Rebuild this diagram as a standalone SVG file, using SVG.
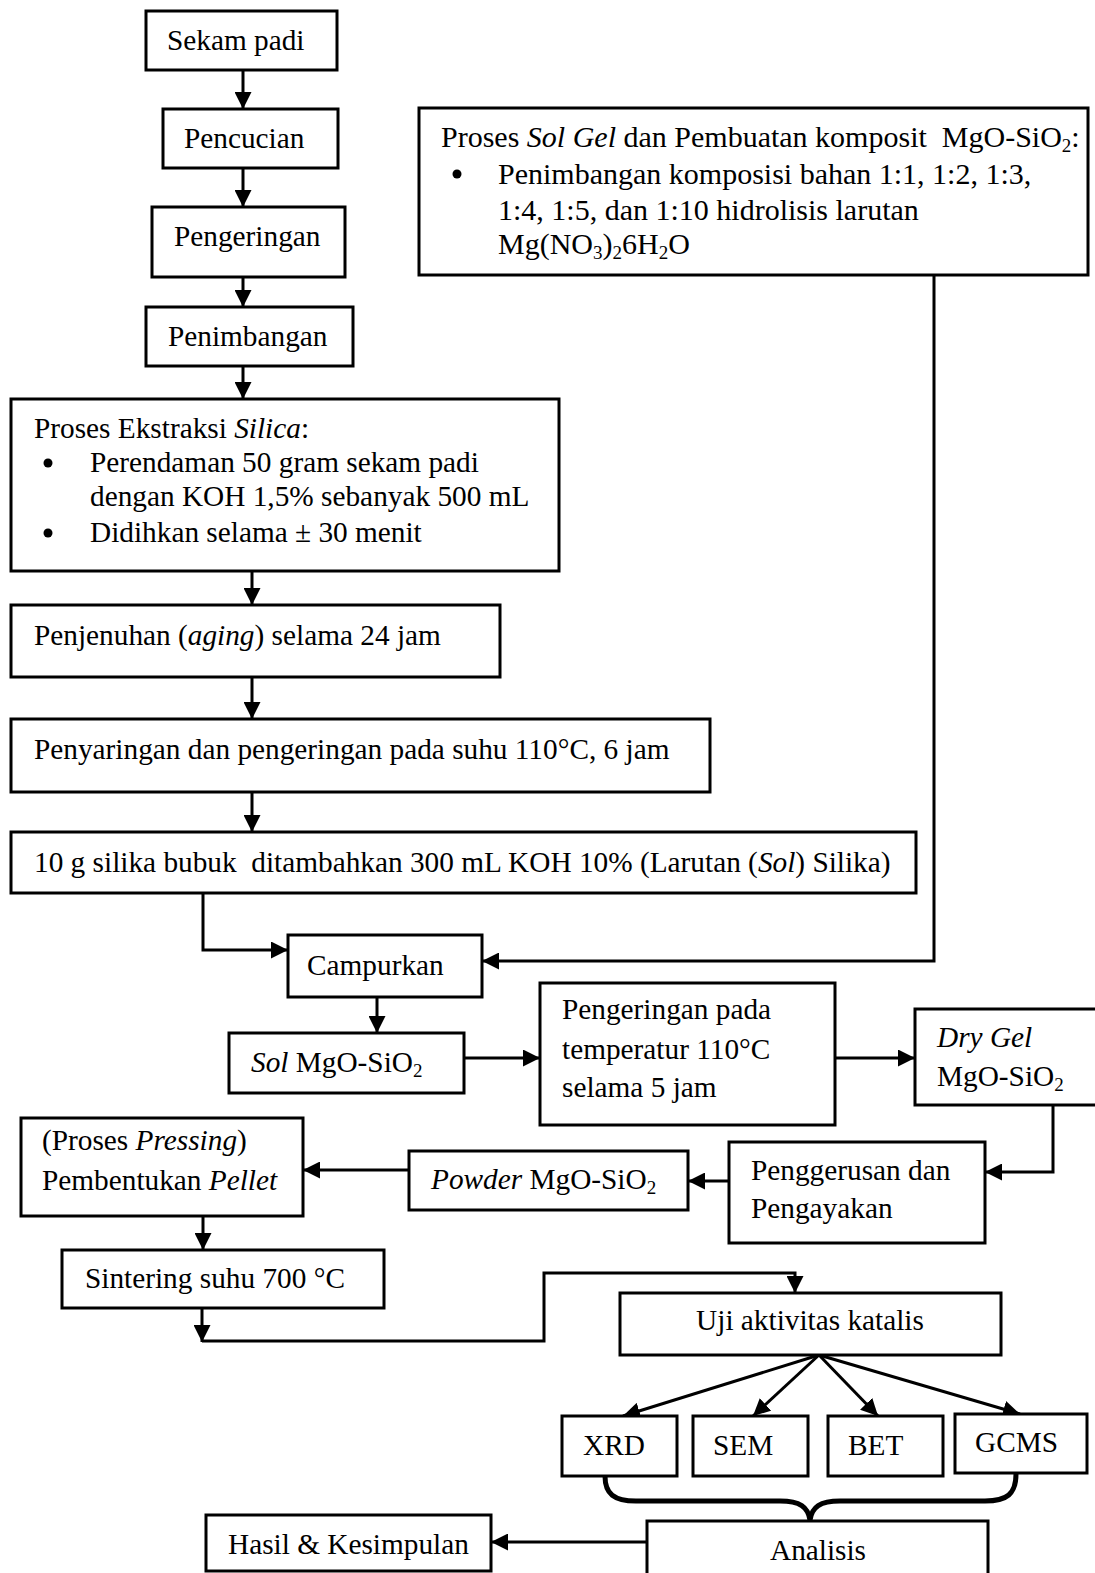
<svg xmlns="http://www.w3.org/2000/svg" width="1095" height="1573" viewBox="0 0 1095 1573">
<style>
.b{fill:#fff;stroke:#000;stroke-width:3}
text{font-family:"Liberation Serif","Times New Roman",serif;font-size:29.3px;fill:#000}
.g{font-size:30px}
.c{fill:none;stroke:#000;stroke-width:3}
.a{marker-end:url(#ah)}
.i{font-style:italic}
.s{font-size:19px}
</style>
<defs>
<marker id="ah" viewBox="0 0 16 16" refX="16" refY="8" markerWidth="17" markerHeight="17" markerUnits="userSpaceOnUse" orient="auto">
<path d="M0,0 L16,8 L0,16 z" fill="#000"/>
</marker>
</defs>
<rect width="1095" height="1573" fill="#fff"/>
<g id="connectors">
<path class="c a" d="M243,70 V109"/>
<path class="c a" d="M243,168 V207"/>
<path class="c a" d="M243,277 V307"/>
<path class="c a" d="M243,366 V399"/>
<path class="c a" d="M252,571 V605"/>
<path class="c a" d="M252,677 V719"/>
<path class="c a" d="M252,792 V832"/>
<path class="c a" d="M203,893 V950 H288"/>
<path class="c a" d="M934,275 V961 H482"/>
<path class="c a" d="M377,997 V1033"/>
<path class="c a" d="M464,1058 H540"/>
<path class="c a" d="M835,1058 H915"/>
<path class="c a" d="M1053,1105 V1172 H985"/>
<path class="c a" d="M729,1181 H688"/>
<path class="c a" d="M409,1170 H303"/>
<path class="c a" d="M203,1216 V1250"/>
<path class="c a" d="M202,1308 V1342"/>
<path class="c a" d="M202,1341 H544 V1273 H795 V1293"/>
<path class="c a" d="M819,1355 L623,1416"/>
<path class="c a" d="M819,1355 L753,1416"/>
<path class="c a" d="M819,1355 L878,1416"/>
<path class="c a" d="M819,1355 L1020,1414"/>
<path d="M605,1476 C605,1494 614,1501 636,1501 H780 C800,1501 808,1507 810,1520 C812,1507 820,1501 840,1501 H985 C1007,1501 1016,1494 1016,1474" fill="none" stroke="#000" stroke-width="5"/>
<path class="c a" d="M647,1542 H491"/>
</g>
<g id="n1"><rect class="b" x="146" y="11" width="191" height="59"/><text x="167" y="50">Sekam padi</text></g>
<g id="n2"><rect class="b" x="163" y="109" width="175" height="59"/><text x="184" y="148">Pencucian</text></g>
<g id="n3"><rect class="b" x="152" y="207" width="193" height="70"/><text x="174" y="246">Pengeringan</text></g>
<g id="n4"><rect class="b" x="146" y="307" width="207" height="59"/><text x="168" y="346">Penimbangan</text></g>
<g id="n5"><rect class="b" x="419" y="108" width="669" height="167"/>
<text class="g" x="441" y="147" xml:space="preserve">Proses <tspan class="i">Sol Gel</tspan> dan Pembuatan komposit  MgO-SiO<tspan class="s" dy="5">2</tspan><tspan dy="-5">:</tspan></text>
<circle cx="457" cy="174" r="4.5"/>
<text class="g" x="498" y="184">Penimbangan komposisi bahan 1:1, 1:2, 1:3,</text>
<text class="g" x="498" y="220">1:4, 1:5, dan 1:10 hidrolisis larutan</text>
<text class="g" x="498" y="254">Mg(NO<tspan class="s" dy="5">3</tspan><tspan dy="-5">)</tspan><tspan class="s" dy="5">2</tspan><tspan dy="-5">6H</tspan><tspan class="s" dy="5">2</tspan><tspan dy="-5">O</tspan></text>
</g>
<g id="n6"><rect class="b" x="11" y="399" width="548" height="172"/>
<text x="34" y="438">Proses Ekstraksi <tspan class="i">Silica</tspan>:</text>
<circle cx="48" cy="463" r="4.5"/>
<text x="90" y="472">Perendaman 50 gram sekam padi</text>
<text x="90" y="506">dengan KOH 1,5% sebanyak 500 mL</text>
<circle cx="48" cy="533" r="4.5"/>
<text x="90" y="542">Didihkan selama ± 30 menit</text>
</g>
<g id="n7"><rect class="b" x="11" y="605" width="489" height="72"/><text x="34" y="645">Penjenuhan (<tspan class="i">aging</tspan>) selama 24 jam</text></g>
<g id="n8"><rect class="b" x="11" y="719" width="699" height="73"/><text x="34" y="759">Penyaringan dan pengeringan pada suhu 110°C, 6 jam</text></g>
<g id="n9"><rect class="b" x="11" y="832" width="905" height="61"/><text x="34" y="872" xml:space="preserve">10 g silika bubuk  ditambahkan 300 mL KOH 10% (Larutan (<tspan class="i">Sol</tspan>) Silika)</text></g>
<g id="n10"><rect class="b" x="288" y="935" width="194" height="62"/><text x="307" y="975">Campurkan</text></g>
<g id="n11"><rect class="b" x="229" y="1033" width="235" height="60"/><text x="251" y="1072"><tspan class="i">Sol</tspan> MgO-SiO<tspan class="s" dy="5">2</tspan></text></g>
<g id="n12"><rect class="b" x="540" y="983" width="295" height="142"/>
<text x="562" y="1019">Pengeringan pada</text>
<text x="562" y="1059">temperatur 110°C</text>
<text x="562" y="1097">selama 5 jam</text>
</g>
<g id="n13"><rect class="b" x="915" y="1009" width="190" height="96"/>
<text x="937" y="1047" class="i">Dry Gel</text>
<text x="937" y="1086">MgO-SiO<tspan class="s" dy="5">2</tspan></text>
</g>
<g id="n14"><rect class="b" x="729" y="1142" width="256" height="101"/>
<text x="751" y="1180">Penggerusan dan</text>
<text x="751" y="1218">Pengayakan</text>
</g>
<g id="n15"><rect class="b" x="409" y="1151" width="279" height="59"/><text x="431" y="1189"><tspan class="i">Powder</tspan> MgO-SiO<tspan class="s" dy="5">2</tspan></text></g>
<g id="n16"><rect class="b" x="21" y="1118" width="282" height="98"/>
<text x="42" y="1150">(Proses <tspan class="i">Pressing</tspan>)</text>
<text x="42" y="1190">Pembentukan <tspan class="i">Pellet</tspan></text>
</g>
<g id="n17"><rect class="b" x="62" y="1250" width="322" height="58"/><text x="85" y="1288">Sintering suhu 700 °C</text></g>
<g id="n18"><rect class="b" x="620" y="1293" width="381" height="62"/><text x="810" y="1330" text-anchor="middle">Uji aktivitas katalis</text></g>
<g id="n19"><rect class="b" x="562" y="1416" width="115" height="60"/><text x="583" y="1455">XRD</text></g>
<g id="n20"><rect class="b" x="693" y="1416" width="115" height="60"/><text x="713" y="1455">SEM</text></g>
<g id="n21"><rect class="b" x="828" y="1416" width="115" height="60"/><text x="848" y="1455">BET</text></g>
<g id="n22"><rect class="b" x="955" y="1414" width="132" height="59"/><text x="975" y="1452">GCMS</text></g>
<g id="n23"><rect class="b" x="647" y="1521" width="341" height="60"/><text x="818" y="1560" text-anchor="middle">Analisis</text></g>
<g id="n24"><rect class="b" x="206" y="1515" width="285" height="56"/><text x="228" y="1554">Hasil &amp; Kesimpulan</text></g>
</svg>
